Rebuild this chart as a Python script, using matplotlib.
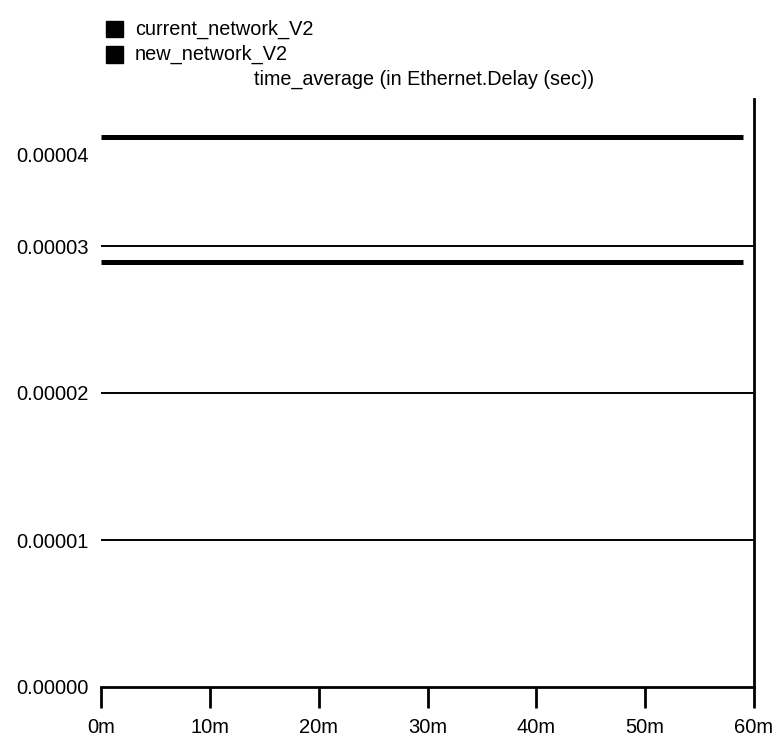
import matplotlib.pyplot as plt
from matplotlib.patches import Rectangle
from matplotlib.transforms import ScaledTranslation

series_names = ['current_network_V2', 'new_network_V2']
minutes = [0, 59]
current_delay = [3.74e-5, 3.74e-5]
new_delay = [2.89e-5, 2.89e-5]
y_ticks = [0.0, 0.00001, 0.00002, 0.00003, 0.00004]
y_tick_labels = ['0.00000', '0.00001', '0.00002', '0.00003', '0.00004']
x_ticks = [0, 10, 20, 30, 40, 50, 60]
x_tick_labels = ['0m', '10m', '20m', '30m', '40m', '50m', '60m']

plt.rcParams['font.family'] = ['Liberation Sans', 'DejaVu Sans']
plt.rcParams['font.size'] = 14.5

W, H = 784, 742
fig = plt.figure(figsize=(W / 100, H / 100), dpi=100)
ax = fig.add_axes([101 / W, 1 - 687 / H, (754 - 101) / W, (687 - 99) / H])

for y in y_ticks[1:4]:
    ax.axhline(y, color='black', lw=1.4, zorder=1)

ax.plot(minutes, current_delay, color='black', lw=3.6, solid_capstyle='butt', zorder=3)
ax.plot(minutes, new_delay, color='black', lw=3.6, solid_capstyle='butt', zorder=3)

ax.set_xlim(0, 60)
ax.set_ylim(0, 0.00004)
ax.set_xticks(x_ticks)
ax.set_xticklabels(x_tick_labels)
ax.set_yticks(y_ticks)
ax.set_yticklabels(y_tick_labels)

ax.spines['left'].set_visible(False)
ax.spines['top'].set_visible(False)
ax.spines['bottom'].set_linewidth(2)
ax.spines['right'].set_linewidth(2)

ax.tick_params(axis='x', direction='out', length=15, width=2, pad=7)
ax.tick_params(axis='y', length=0, pad=9)

# the top label sits lower than its tick in the original
top_label = ax.get_yticklabels()[-1]
top_label.set_transform(top_label.get_transform() +
                        ScaledTranslation(0, -0.56, fig.dpi_scale_trans))

# legend: black squares with names, top left
for i, name in enumerate(series_names):
    yc = 29 + 25.5 * i
    fig.add_artist(Rectangle((106 / W, 1 - (yc + 8) / H), 17 / W, 16 / H,
                             transform=fig.transFigure, color='black'))
    fig.text(135 / W, 1 - yc / H, name, ha='left', va='center', fontsize=14.3)

fig.text(424 / W, 1 - 79 / H, 'time_average (in Ethernet.Delay (sec))',
         ha='center', va='center', fontsize=14.2)

fig.savefig('out.png', dpi=100)
